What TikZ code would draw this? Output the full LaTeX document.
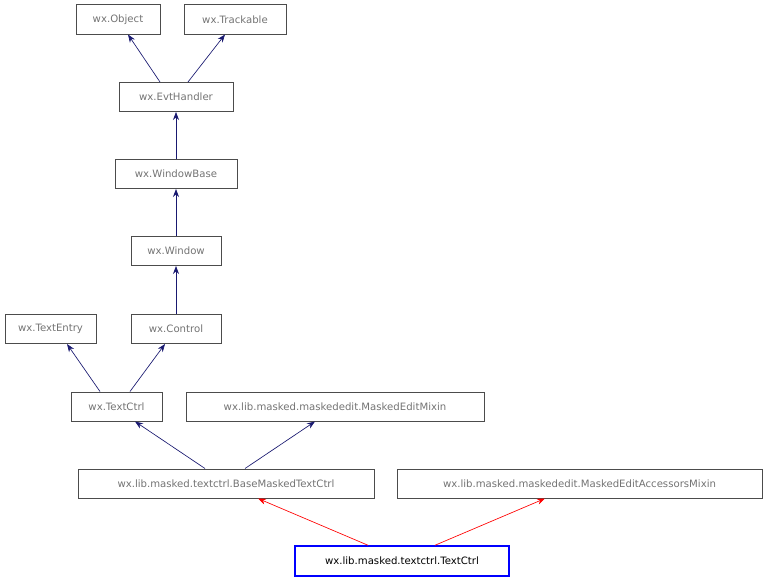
\documentclass[tikz,border=0pt]{standalone}
\usepackage{fontspec}
\setmainfont{DejaVu Sans}
\usetikzlibrary{arrows.meta}
\begin{document}
\begin{tikzpicture}[x=0.75pt,y=-0.75pt,
 cls/.style={draw=black!70,line width=0.5pt,text=black!55,font=\fontsize{7.6}{9}\selectfont,inner sep=0pt,minimum height=22pt},
 main/.style={draw=blue,line width=1.6pt,text=black,font=\fontsize{7.6}{9}\selectfont,inner sep=0pt,minimum height=22pt},
 inh/.style={draw={rgb,255:red,25;green,25;blue,112},line width=0.5pt,-{Stealth[length=6pt,width=4.5pt]}},
 inr/.style={draw=red,line width=0.5pt,-{Stealth[length=6pt,width=4.5pt]}}]
\useasboundingbox (0,0) rectangle (767,581);
\node[cls,minimum width=63pt] (obj) at (118,19.5) {wx.Object};
\node[cls,minimum width=76.5pt] (trk) at (235,19.5) {wx.Trackable};
\node[cls,minimum width=85.5pt] (evt) at (176,97) {wx.EvtHandler};
\node[cls,minimum width=91.5pt] (wb) at (176,174) {wx.WindowBase};
\node[cls,minimum width=67.5pt] (win) at (176,251) {wx.Window};
\node[cls,minimum width=68.25pt] (te) at (50.5,329) {wx.TextEntry};
\node[cls,minimum width=67.5pt] (ctl) at (176,329) {wx.Control};
\node[cls,minimum width=68.25pt] (tc) at (116.5,406.5) {wx.TextCtrl};
\node[cls,minimum width=223.5pt] (mem) at (335,406.5) {wx.lib.masked.maskededit.MaskedEditMixin};
\node[cls,minimum width=222pt] (bm) at (226,483.5) {wx.lib.masked.textctrl.BaseMaskedTextCtrl};
\node[cls,minimum width=273.75pt] (acc) at (579.5,483.5) {wx.lib.masked.maskededit.MaskedEditAccessorsMixin};
\node[main,minimum width=160.5pt] (mtc) at (402,561) {wx.lib.masked.textctrl.TextCtrl};
\draw[inh] (evt.north -| 160,0) -- (obj.south -| 128,0);
\draw[inh] (evt.north -| 188,0) -- (trk.south -| 225,0);
\draw[inh] (wb) -- (evt);
\draw[inh] (win) -- (wb);
\draw[inh] (ctl) -- (win);
\draw[inh] (tc.north -| 100,0) -- (te.south -| 67,0);
\draw[inh] (tc.north -| 130,0) -- (ctl.south -| 165,0);
\draw[inh] (bm.north -| 205,0) -- (tc.south -| 135,0);
\draw[inh] (bm.north -| 245,0) -- (mem.south -| 315,0);
\draw[inr] (mtc.north -| 368,0) -- (bm.south -| 258,0);
\draw[inr] (mtc.north -| 435,0) -- (acc.south -| 545,0);
\end{tikzpicture}
\end{document}
